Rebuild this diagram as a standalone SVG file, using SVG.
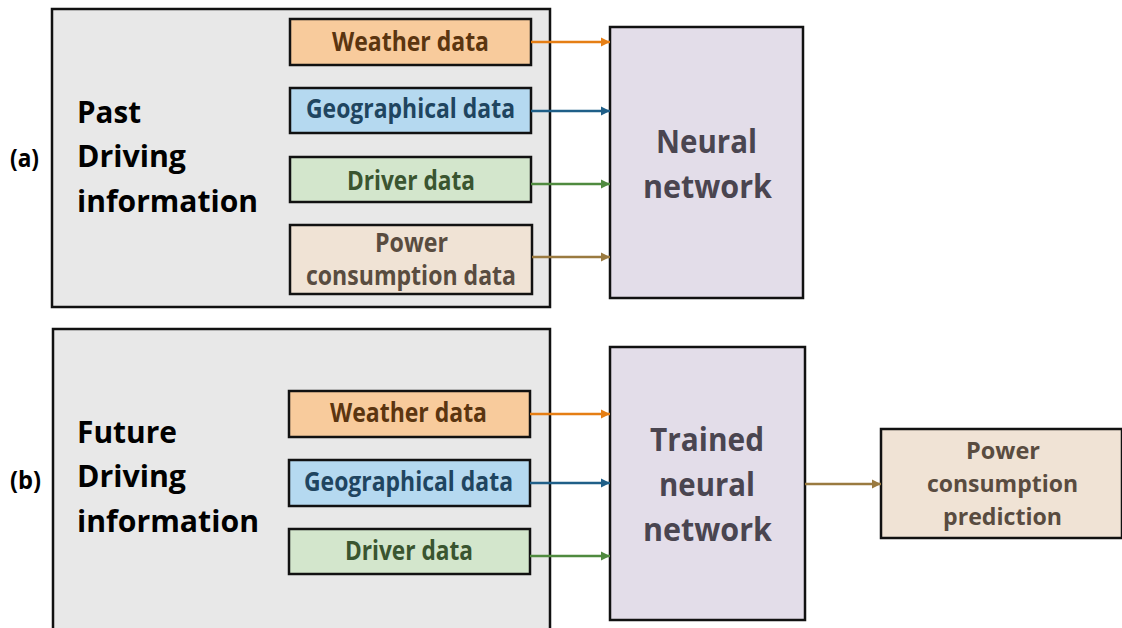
<svg xmlns="http://www.w3.org/2000/svg" width="1122" height="628" viewBox="0 0 1122 628">
  <style>
    text { font-family: "Open Sans", "Liberation Sans", sans-serif; font-weight: bold; }
    .frame { fill: #e8e8e8; stroke: #111; stroke-width: 2.5; }
    .box { stroke: #111; stroke-width: 2.5; }
    .head { font-size: 30px; fill: #000; }
    .tag { font-size: 25px; fill: #000; }
    .lbl { font-size: 26px; text-anchor: middle; }
    .lbl2 { font-size: 24px; text-anchor: middle; }
    .big { font-size: 33px; text-anchor: middle; fill: #4a4550; }
    .weather { fill: #f8cb9c; } .weather-t { fill: #5b3510; }
    .geo { fill: #b5d9f0; } .geo-t { fill: #1f4560; }
    .driver { fill: #d3e6cc; } .driver-t { fill: #3a5530; }
    .power { fill: #f0e3d5; } .power-t { fill: #594c40; }
    .nn { fill: #e3dde9; }
    .link { fill: none; stroke-width: 2.5; }
  </style>
  <defs>
    <marker id="ah-orange" markerUnits="userSpaceOnUse" markerWidth="10" markerHeight="10" refX="9" refY="5" orient="auto"><path d="M0,0.5 L9,5 L0,9.5 Z" fill="#e57e14"/></marker>
    <marker id="ah-blue" markerUnits="userSpaceOnUse" markerWidth="10" markerHeight="10" refX="9" refY="5" orient="auto"><path d="M0,0.5 L9,5 L0,9.5 Z" fill="#1f5f88"/></marker>
    <marker id="ah-green" markerUnits="userSpaceOnUse" markerWidth="10" markerHeight="10" refX="9" refY="5" orient="auto"><path d="M0,0.5 L9,5 L0,9.5 Z" fill="#4f8a3f"/></marker>
    <marker id="ah-brown" markerUnits="userSpaceOnUse" markerWidth="10" markerHeight="10" refX="9" refY="5" orient="auto"><path d="M0,0.5 L9,5 L0,9.5 Z" fill="#9a7a40"/></marker>
  </defs>
  <rect width="1122" height="628" fill="#fff"/>

  <!-- (a) training -->
  <g id="label-a"><text class="tag" x="10" y="167" textLength="29" lengthAdjust="spacingAndGlyphs">(a)</text></g>
  <g id="past-info">
    <rect class="frame" x="52" y="9" width="498" height="298"/>
    <text class="head" x="77" y="123" textLength="64" lengthAdjust="spacingAndGlyphs">Past</text>
    <text class="head" x="77" y="167" textLength="109" lengthAdjust="spacingAndGlyphs">Driving</text>
    <text class="head" x="77" y="212" textLength="181" lengthAdjust="spacingAndGlyphs">information</text>
  </g>
  <g id="weather-a">
    <rect class="box weather" x="290" y="19" width="241" height="46"/>
    <text class="lbl weather-t" x="410.5" y="51" textLength="157" lengthAdjust="spacingAndGlyphs">Weather data</text>
  </g>
  <g id="geo-a">
    <rect class="box geo" x="290" y="88" width="241" height="45"/>
    <text class="lbl geo-t" x="410.5" y="118" textLength="209" lengthAdjust="spacingAndGlyphs">Geographical data</text>
  </g>
  <g id="driver-a">
    <rect class="box driver" x="290" y="157" width="241" height="45"/>
    <text class="lbl driver-t" x="411" y="190" textLength="128" lengthAdjust="spacingAndGlyphs">Driver data</text>
  </g>
  <g id="power-a">
    <rect class="box power" x="290" y="225" width="242" height="69"/>
    <text class="lbl power-t" x="411.5" y="252" textLength="73" lengthAdjust="spacingAndGlyphs">Power</text>
    <text class="lbl power-t" x="411" y="285" textLength="210" lengthAdjust="spacingAndGlyphs">consumption data</text>
  </g>
  <g id="neural-network">
    <rect class="box nn" x="610" y="27" width="193" height="271"/>
    <text class="big" x="706.5" y="153" textLength="101" lengthAdjust="spacingAndGlyphs">Neural</text>
    <text class="big" x="707.5" y="198" textLength="129" lengthAdjust="spacingAndGlyphs">network</text>
  </g>

  <!-- (b) prediction -->
  <g id="label-b"><text class="tag" x="10" y="489" textLength="31" lengthAdjust="spacingAndGlyphs">(b)</text></g>
  <g id="future-info">
    <rect class="frame" x="53" y="329" width="497" height="310"/>
    <text class="head" x="77" y="443" textLength="100" lengthAdjust="spacingAndGlyphs">Future</text>
    <text class="head" x="77" y="487" textLength="109" lengthAdjust="spacingAndGlyphs">Driving</text>
    <text class="head" x="77" y="532" textLength="182" lengthAdjust="spacingAndGlyphs">information</text>
  </g>
  <g id="weather-b">
    <rect class="box weather" x="289" y="391" width="241" height="46"/>
    <text class="lbl weather-t" x="408.5" y="422" textLength="157" lengthAdjust="spacingAndGlyphs">Weather data</text>
  </g>
  <g id="geo-b">
    <rect class="box geo" x="289" y="460" width="241" height="46"/>
    <text class="lbl geo-t" x="408.5" y="491" textLength="209" lengthAdjust="spacingAndGlyphs">Geographical data</text>
  </g>
  <g id="driver-b">
    <rect class="box driver" x="289" y="529" width="241" height="45"/>
    <text class="lbl driver-t" x="409" y="560" textLength="128" lengthAdjust="spacingAndGlyphs">Driver data</text>
  </g>
  <g id="trained-network">
    <rect class="box nn" x="610" y="347" width="195" height="273"/>
    <text class="big" x="707" y="451" textLength="114" lengthAdjust="spacingAndGlyphs">Trained</text>
    <text class="big" x="707" y="496" textLength="96" lengthAdjust="spacingAndGlyphs">neural</text>
    <text class="big" x="707.5" y="541" textLength="129" lengthAdjust="spacingAndGlyphs">network</text>
  </g>
  <g id="prediction">
    <rect class="box power" x="881" y="429" width="241" height="109"/>
    <text class="lbl2 power-t" x="1003" y="459" textLength="74" lengthAdjust="spacingAndGlyphs">Power</text>
    <text class="lbl2 power-t" x="1002.5" y="492" textLength="151" lengthAdjust="spacingAndGlyphs">consumption</text>
    <text class="lbl2 power-t" x="1002.5" y="525" textLength="119" lengthAdjust="spacingAndGlyphs">prediction</text>
  </g>

  <g id="connectors">
    <line class="link" x1="531" y1="42" x2="610" y2="42" stroke="#e57e14" marker-end="url(#ah-orange)"/>
    <line class="link" x1="531" y1="111" x2="610" y2="111" stroke="#1f5f88" marker-end="url(#ah-blue)"/>
    <line class="link" x1="531" y1="184" x2="610" y2="184" stroke="#4f8a3f" marker-end="url(#ah-green)"/>
    <line class="link" x1="532" y1="257" x2="610" y2="257" stroke="#9a7a40" marker-end="url(#ah-brown)"/>
    <line class="link" x1="530" y1="414" x2="610" y2="414" stroke="#e57e14" marker-end="url(#ah-orange)"/>
    <line class="link" x1="530" y1="483" x2="610" y2="483" stroke="#1f5f88" marker-end="url(#ah-blue)"/>
    <line class="link" x1="530" y1="556" x2="610" y2="556" stroke="#4f8a3f" marker-end="url(#ah-green)"/>
    <line class="link" x1="805" y1="484" x2="881" y2="484" stroke="#9a7a40" marker-end="url(#ah-brown)"/>
  </g>
</svg>
